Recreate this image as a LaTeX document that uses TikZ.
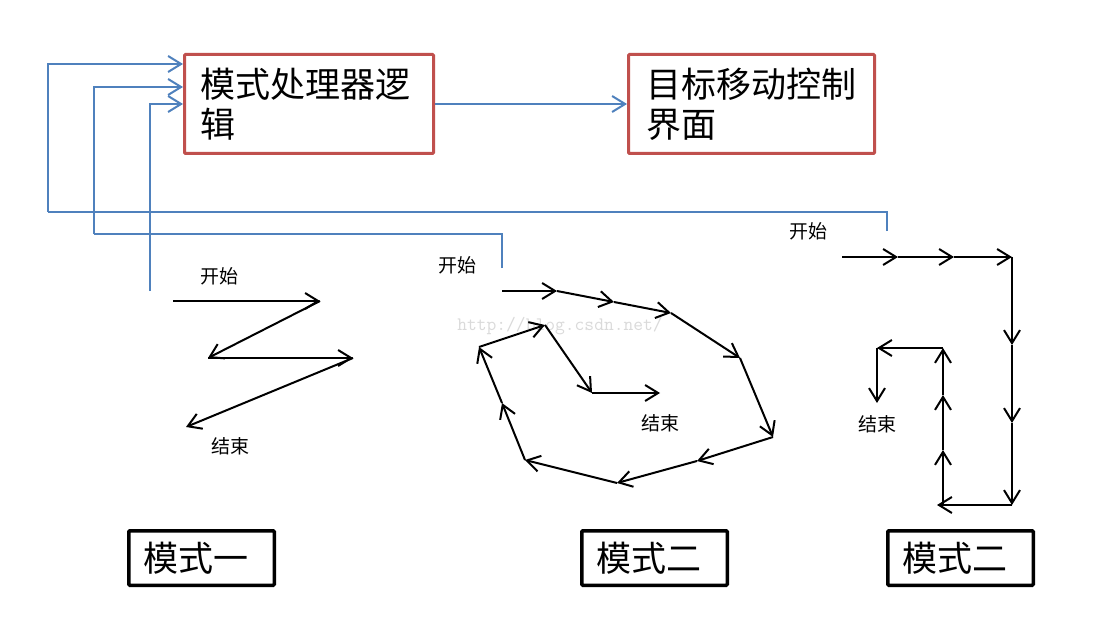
\documentclass[tikz,border=0pt]{standalone}
\usepackage{fontspec}
\newfontfamily\cjk{Noto Sans CJK SC}
\usetikzlibrary{arrows.meta}
\definecolor{boxred}{HTML}{C0504D}
\definecolor{lineblue}{HTML}{4F81BD}
\definecolor{wmgray}{HTML}{DADADA}
\tikzset{
  bigtext/.style={font=\cjk\fontsize{35pt}{40pt}\selectfont},
  redbox/.style={draw=boxred, line width=3pt, rounded corners=1pt, bigtext, align=left,
    inner ysep=0pt, minimum height=99pt, anchor=north west, text=black},
  modebox/.style={draw=black, line width=3.5pt, rounded corners=1pt, bigtext, align=left,
    inner xsep=14.25pt, inner ysep=0pt, text width=117pt, minimum height=54.5pt, anchor=north west},
  lbl/.style={font=\cjk\fontsize{19pt}{22pt}\selectfont, inner sep=0pt},
  wmark/.style={font=\ttfamily\fontsize{19pt}{19pt}\selectfont, text=wmgray, inner sep=0pt},
  bluearrow/.style={draw=lineblue, line width=2pt, -{Straight Barb[length=13pt,width=16pt]}},
  blueline/.style={draw=lineblue, line width=2pt},
  blkarrow/.style={draw=black, line width=2pt, -{Straight Barb[length=13pt,width=16pt]}},
}
\begin{document}
\begin{tikzpicture}[x=1pt,y=-1pt]
\useasboundingbox (0,0) rectangle (1100,631);
\fill[white] (0,0) rectangle (1100,631);

% watermark
\node[wmark] (wm) at (560,326) {http://blog.csdn.net/};

% top boxes
\node[redbox, inner xsep=15.5pt, text width=218pt] (b1) at (183,53) {模式处理器逻\\辑};
\node[redbox, inner xsep=18pt, text width=210pt] (b2) at (627,53) {目标移动控制\\界面};
\draw[bluearrow] (b1.east) -- (b2.west);

% bottom boxes
\node[modebox] (k1) at (127,529) {模式一};
\node[modebox] (k2) at (580,529) {模式二};
\node[modebox] (k3) at (886,529) {模式二};

% feedback lines
\coordinate (fa) at (887,231);
\coordinate (fak) at (48,212);
\coordinate (fay) at (0,64);
\coordinate (fb) at (502,268);
\coordinate (fbk) at (94,234);
\coordinate (fby) at (0,87);
\coordinate (fc) at (150,291);
\coordinate (fcy) at (0,104);
\draw[blueline] (fa) |- (fak);
\draw[bluearrow] (fak) |- (b1.west |- fay);
\draw[blueline] (fb) |- (fbk);
\draw[bluearrow] (fbk) |- (b1.west |- fby);
\draw[bluearrow] (fc) |- (b1.west |- fcy);

% mode 1 path
\coordinate (z0) at (173,301);
\coordinate (z1) at (320,301);
\coordinate (z2) at (208,358);
\coordinate (z3) at (353,358);
\coordinate (z4) at (186,427);
\foreach \a/\b in {z0/z1,z1/z2,z2/z3,z3/z4} \draw[blkarrow] (\a) -- (\b);
\node[lbl] (s1) at (219,276) {开始};
\node[lbl] (e1) at (230,446) {结束};

% mode 2 path
\coordinate (m0) at (502,291);
\coordinate (m1) at (557,291);
\coordinate (m2) at (614,302);
\coordinate (m3) at (671,313);
\coordinate (m4) at (740,358);
\coordinate (m5) at (773,437);
\coordinate (m6) at (697,461);
\coordinate (m7) at (617,483);
\coordinate (m8) at (525,460);
\coordinate (m9) at (502,403);
\coordinate (m10) at (479,347);
\coordinate (m11) at (545,325);
\coordinate (m12) at (592,393);
\coordinate (m13) at (660,393);
\foreach \a/\b in {m0/m1,m1/m2,m2/m3,m3/m4,m4/m5,m5/m6,m6/m7,m7/m8,m8/m9,m9/m10,m10/m11,m11/m12,m12/m13}
  \draw[blkarrow] (\a) -- (\b);
\node[lbl] (s2) at (457,265) {开始};
\node[lbl] (e2) at (660,423) {结束};

% mode 3 path
\coordinate (r0) at (842,257);
\coordinate (r1) at (898,257);
\coordinate (r2) at (954,257);
\coordinate (r3) at (1012,257);
\coordinate (r4) at (1012,345);
\coordinate (r5) at (1012,423);
\coordinate (r6) at (1012,505);
\coordinate (r7) at (937,505);
\coordinate (r8) at (943,506);
\coordinate (r9) at (943,450);
\coordinate (r10) at (943,395);
\coordinate (r11) at (943,348);
\coordinate (r12) at (877,348);
\coordinate (r13) at (877,403);
\foreach \a/\b in {r0/r1,r1/r2,r2/r3,r3/r4,r4/r5,r5/r6,r6/r7,r8/r9,r9/r10,r10/r11,r11/r12,r12/r13}
  \draw[blkarrow] (\a) -- (\b);
\node[lbl] (s3) at (808,231) {开始};
\node[lbl] (e3) at (877,424) {结束};
\end{tikzpicture}
\end{document}
